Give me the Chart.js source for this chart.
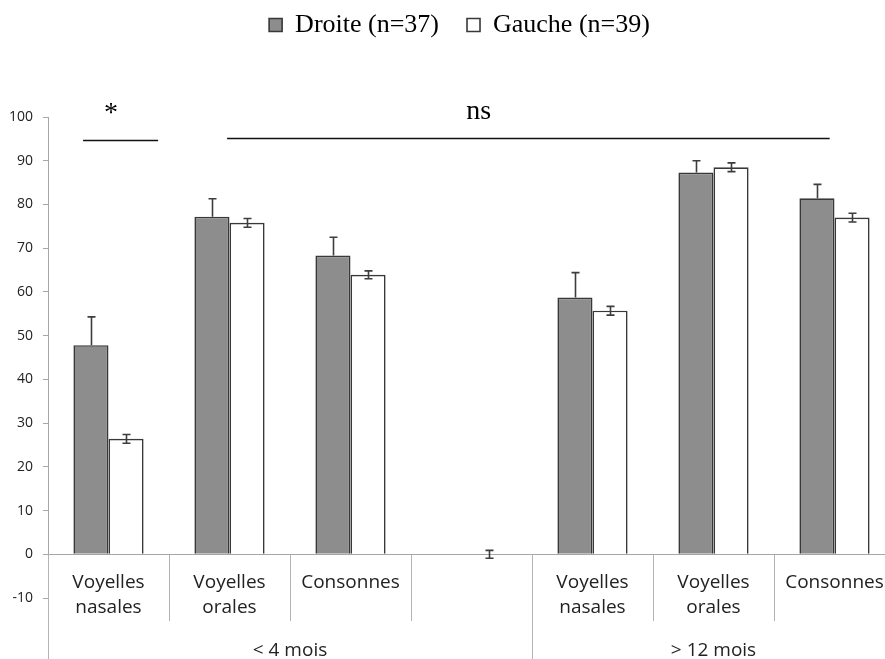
<!DOCTYPE html>
<html>
<head>
<meta charset="utf-8">
<script src="https://cdn.jsdelivr.net/npm/chart.js@4.4.1/dist/chart.umd.min.js"></script>
<style>
  html, body { margin: 0; padding: 0; background: #ffffff; }
  #wrap { width: 885px; height: 659px; }
</style>
</head>
<body>
<div id="wrap"><canvas id="c" width="885" height="659"></canvas></div>
<script>
// ---- data ----
const categories = [
  ['Voyelles', 'nasales'],
  ['Voyelles', 'orales'],
  'Consonnes',
  '',
  ['Voyelles', 'nasales'],
  ['Voyelles', 'orales'],
  'Consonnes'
];
const groupLabels = ['< 4 mois', '> 12 mois'];
const groupStart = [0, 4];
const groupEnd = [3, 6];

const droiteLabel = 'Droite (n=37)';
const gaucheLabel = 'Gauche (n=39)';
const droiteValues = [47.8, 77.2, 68.3, null, 58.7, 87.3, 81.4];
const droiteErr    = [6.5, 4.1, 4.2, null, 5.7, 2.7, 3.2];
const gaucheValues = [26.4, 75.8, 63.9, 0, 55.7, 88.5, 77.0];
const gaucheErr    = [1.0, 1.0, 0.9, 0.9, 1.0, 1.0, 1.0];

const yTickMin = -10;
const yTickMax = 100;
const yTickStep = 10;

// significance annotations
const sigText  = ['*', 'ns'];
const sigFrom  = [-0.21, 0.98];
const sigTo    = [0.41, 5.96];
const sigLevel = [94.8, 95.2];
const sigTextX = [0.02, 3.06];
const sigTextY = [99.1, 99.6];

// ---- plugins ----
const layoutTweakPlugin = {
  id: 'layoutTweak',
  afterLayout(chart) {
    // legend centred as in the original figure
    if (chart.legend) { chart.legend.left += 17; chart.legend.right += 17; }
    // the original figure is cropped: the category axis runs slightly past the right edge
    const xs = chart.scales.x;
    xs.right += 10;
    xs.width += 10;
    xs.configure();
  }
};

const errorBarPlugin = {
  id: 'errorBars',
  afterDatasetsDraw(chart) {
    const ctx = chart.ctx;
    const y = chart.scales.y;
    const errs = [droiteErr, gaucheErr];
    const both = [false, true];
    ctx.save();
    ctx.strokeStyle = '#3d3d3d';
    ctx.lineWidth = 1.6;
    errs.forEach((err, di) => {
      const meta = chart.getDatasetMeta(di);
      const vals = chart.data.datasets[di].data;
      meta.data.forEach((bar, i) => {
        if (err[i] == null || vals[i] == null) return;
        const x = Math.round(bar.x) + 0.5;
        const yTop = y.getPixelForValue(vals[i] + err[i]);
        const yBot = both[di] ? y.getPixelForValue(vals[i] - err[i]) : y.getPixelForValue(vals[i]);
        ctx.beginPath();
        ctx.moveTo(x, yTop); ctx.lineTo(x, yBot);
        ctx.moveTo(x - 4, yTop); ctx.lineTo(x + 4, yTop);
        if (both[di]) { ctx.moveTo(x - 4, yBot); ctx.lineTo(x + 4, yBot); }
        ctx.stroke();
      });
    });
    ctx.restore();
  }
};

const decorPlugin = {
  id: 'decor',
  afterDraw(chart) {
    const ctx = chart.ctx;
    const x = chart.scales.x;
    const y = chart.scales.y;
    const catW = x.getPixelForValue(1) - x.getPixelForValue(0);
    const zeroY = y.getPixelForValue(0);
    const H = chart.height;
    ctx.save();
    // group separators extended to the bottom
    ctx.strokeStyle = '#b3b3b3';
    ctx.lineWidth = 1;
    const edges = groupStart.concat([categories.length]);
    edges.forEach((i) => {
      const px = Math.round(x.getPixelForValue(i) - catW / 2) + 0.5;
      ctx.beginPath();
      ctx.moveTo(px, zeroY);
      ctx.lineTo(px, H);
      ctx.stroke();
    });
    // group labels
    ctx.fillStyle = '#222222';
    ctx.font = '19px "Open Sans"';
    ctx.textAlign = 'center';
    ctx.textBaseline = 'alphabetic';
    groupLabels.forEach((g, k) => {
      const left = x.getPixelForValue(groupStart[k]) - catW / 2;
      const right = x.getPixelForValue(groupEnd[k]) + catW / 2;
      ctx.fillText(g, (left + right) / 2, 656);
    });
    // significance annotations
    ctx.strokeStyle = '#111111';
    ctx.lineWidth = 1.5;
    ctx.fillStyle = '#000000';
    ctx.font = '28px "Liberation Serif"';
    sigText.forEach((t, k) => {
      const ly = Math.round(y.getPixelForValue(sigLevel[k])) + 0.5;
      ctx.beginPath();
      ctx.moveTo(x.getPixelForValue(0) + sigFrom[k] * catW, ly);
      ctx.lineTo(x.getPixelForValue(0) + sigTo[k] * catW, ly);
      ctx.stroke();
      ctx.fillText(t, x.getPixelForValue(0) + sigTextX[k] * catW, y.getPixelForValue(sigTextY[k]));
    });
    ctx.restore();
  }
};

const chart = new Chart(document.getElementById('c'), {
  type: 'bar',
  data: {
    labels: categories,
    datasets: [
      {
        label: droiteLabel,
        data: droiteValues,
        backgroundColor: '#8c8d8c',
        borderColor: '#383838',
        borderWidth: 1.6,
        borderSkipped: 'bottom'
      },
      {
        label: gaucheLabel,
        data: gaucheValues,
        backgroundColor: '#ffffff',
        borderColor: '#383838',
        borderWidth: (c) => (c.raw === 0 ? 0 : 1.6),
        borderSkipped: 'bottom'
      }
    ]
  },
  options: {
    responsive: false,
    animation: false,
    events: [],
    layout: { padding: { top: -16, left: 0, right: 0, bottom: 61 } },
    datasets: { bar: { categoryPercentage: 0.58, barPercentage: 1.0 } },
    plugins: {
      tooltip: { enabled: false },
      legend: {
        display: true,
        position: 'top',
        labels: {
          color: '#000000',
          font: { family: '"Liberation Serif"', size: 26 },
          boxWidth: 13,
          boxHeight: 13,
          padding: 28
        }
      },
      title: {
        display: true,
        text: '',
        weight: 500,
        font: { size: 10, lineHeight: 1 },
        padding: { top: 0, bottom: 59 }
      }
    },
    scales: {
      x: {
        type: 'category',
        position: { y: 0 },
        grid: { display: true, offset: true, drawOnChartArea: false, drawTicks: true, tickLength: 66, color: '#b3b3b3', lineWidth: 1 },
        border: { display: true, color: '#a6a6a6', width: 1 },
        ticks: {
          color: '#222222',
          font: { family: '"Open Sans"', size: 19, lineHeight: 1.35 },
          padding: -51,
          maxRotation: 0,
          autoSkip: false
        }
      },
      y: {
        min: yTickMin,
        max: yTickMax,
        afterFit(scale) { scale.width = 48; },
        grid: { display: true, drawOnChartArea: false, drawTicks: true, tickLength: 5, color: '#a6a6a6' },
        border: { display: true, color: '#a6a6a6', width: 1 },
        ticks: {
          stepSize: yTickStep,
          color: '#222222',
          font: { family: '"Open Sans"', size: 14 },
          padding: 10
        }
      }
    }
  },
  plugins: [layoutTweakPlugin, errorBarPlugin, decorPlugin]
});
</script>
</body>
</html>
